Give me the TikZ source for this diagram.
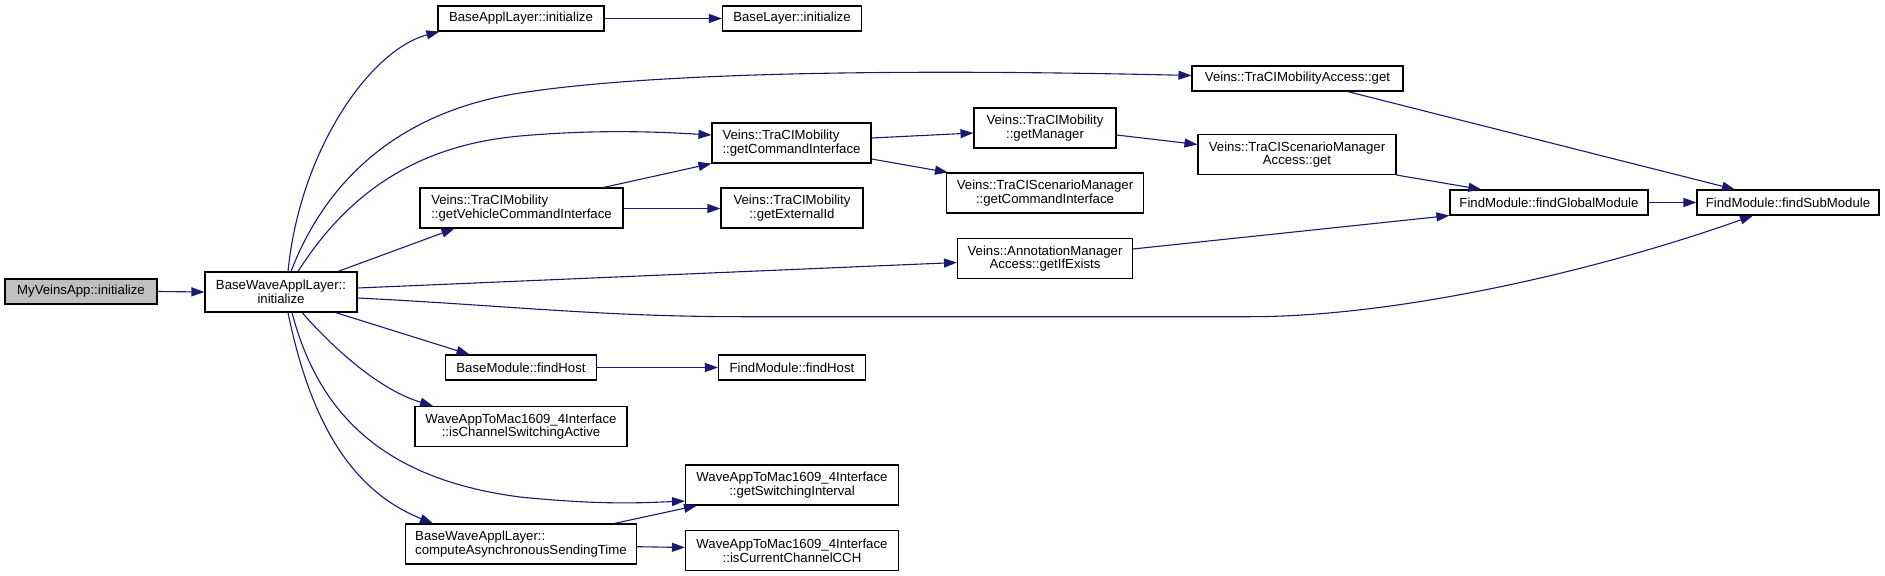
\documentclass[tikz,border=0pt]{standalone}
\usepackage{fontspec}
\setmainfont{Liberation Sans}
\usepackage{xcolor}
\usepackage{tikz}
\usetikzlibrary{positioning, arrows.meta, calc}
\definecolor{edgeblue}{HTML}{191970}
\definecolor{rootgray}{HTML}{BFBFBF}

\begin{document}
\begin{tikzpicture}[x=1bp, y=-1bp,
  fnbox/.style={draw=black, line width=1.1bp, inner sep=0pt, minimum height=25bp,
    font=\fontsize{13.2bp}{13.8bp}\selectfont, align=center},
  twoline/.style={minimum height=40bp},
  calledge/.style={draw=edgeblue, line width=1.1bp, -{Triangle[length=13bp,width=9bp]}}]
\useasboundingbox (0,0) rectangle (1885,576);

% functions
\node[fnbox, fill=rootgray, minimum width=152bp] (myapp) at (81,291.5) {MyVeinsApp::initialize};
\node[fnbox, twoline, minimum width=152bp] (bwal) at (281,292) {BaseWaveApplLayer::\\initialize};
\node[fnbox, minimum width=166bp] (bapl) at (521,18.5) {BaseApplLayer::initialize};
\node[fnbox, minimum width=139bp] (blay) at (792,18.5) {BaseLayer::initialize};
\node[fnbox, minimum width=211bp] (tmaget) at (1297.5,78.5) {Veins::TraCIMobilityAccess::get};
\node[fnbox, twoline, minimum width=159bp, align=left] (getcmd) at (791.5,143) {Veins::TraCIMobility\\::getCommandInterface};
\node[fnbox, twoline, minimum width=203bp, align=left] (getveh) at (521.5,208) {Veins::TraCIMobility\\::getVehicleCommandInterface};
\node[fnbox, twoline, minimum width=142bp] (getext) at (792,208) {Veins::TraCIMobility\\::getExternalId};
\node[fnbox, twoline, minimum width=142bp] (getmgr) at (1045,128) {Veins::TraCIMobility\\::getManager};
\node[fnbox, twoline, minimum width=197bp] (scmcmd) at (1045,193) {Veins::TraCIScenarioManager\\::getCommandInterface};
\node[fnbox, twoline, minimum width=175bp] (annot) at (1045,258.5) {Veins::AnnotationManager\\Access::getIfExists};
\node[fnbox, twoline, minimum width=198bp] (scmget) at (1297,154.5) {Veins::TraCIScenarioManager\\Access::get};
\node[fnbox, minimum width=198bp] (fgm) at (1549,202.5) {FindModule::findGlobalModule};
\node[fnbox, minimum width=182bp] (fsm) at (1788,202.5) {FindModule::findSubModule};
\node[fnbox, minimum width=151bp] (bmfh) at (521,367.5) {BaseModule::findHost};
\node[fnbox, minimum width=147bp] (fmfh) at (792,367.5) {FindModule::findHost};
\node[fnbox, twoline, minimum width=212bp] (ischsw) at (521,426.5) {WaveAppToMac1609\_4Interface\\::isChannelSwitchingActive};
\node[fnbox, twoline, minimum width=231bp, align=left] (casync) at (521,544) {BaseWaveApplLayer::\\computeAsynchronousSendingTime};
\node[fnbox, twoline, minimum width=213bp] (getsw) at (792,485) {WaveAppToMac1609\_4Interface\\::getSwitchingInterval};
\node[fnbox, twoline, minimum width=213bp] (iscch) at (792,550.5) {WaveAppToMac1609\_4Interface\\::isCurrentChannelCCH};

% calls
\draw[calledge] (myapp.east) -- (bwal.west);
\draw[calledge] ([xshift=7bp]bwal.north) .. controls (300,150) and (370,50) .. ([xshift=2bp]bapl.south west);
\draw[calledge] (bapl.east) -- (blay.west);
\draw[calledge] ([xshift=10bp]bwal.north) .. controls (330,170) and (410,110) .. (520,93)
  .. controls (685,67.5) and (1000,71) .. ([yshift=3bp]tmaget.west);
\draw[calledge] ([xshift=17bp]bwal.north) .. controls (350,190) and (420,145) .. (520,136)
  .. controls (600,129) and (660,132) .. ([yshift=8bp]getcmd.west);
\draw[calledge] ([xshift=57bp]bwal.north) -- ([xshift=-67bp]getveh.south);
\draw[calledge] ([xshift=82bp]getveh.north) -- (getcmd.south west);
\draw[calledge] ([yshift=-0.5bp]getveh.east) -- ([yshift=-0.5bp]getext.west);
\draw[calledge] ([yshift=5bp]getcmd.east) -- ([yshift=-5bp]getmgr.west);
\draw[calledge] ([yshift=-16bp]getcmd.east) -- ([xshift=2bp]scmcmd.north west);
\draw[calledge] ([yshift=-7bp]getmgr.east) -- ([yshift=10bp]scmget.west);
\draw[calledge] (scmget.south east) -- ([xshift=32bp]fgm.north west);
\draw[calledge] ([xshift=50bp]tmaget.south) -- ([xshift=-53bp]fsm.north);
\draw[calledge] (fgm.east) -- (fsm.west);
\draw[calledge] ([yshift=9.5bp]annot.east) -- (fgm.south west);
\draw[calledge] ([yshift=4bp]bwal.east) -- ([yshift=-4bp]annot.west);
\draw[calledge] ([yshift=-6bp]bwal.east) .. controls (500,305) and (600,316.7) .. (742,316.7)
  -- (1250,316.7) .. controls (1400,316.7) and (1600,270) .. ([xshift=-35bp]fsm.south);
\draw[calledge] ([xshift=54.5bp]bwal.south) -- ([xshift=-51.5bp]bmfh.north);
\draw[calledge] (bmfh.east) -- (fmfh.west);
\draw[calledge] ([xshift=21bp]bwal.south) .. controls (335,350) and (380,390) .. ([xshift=-88bp]ischsw.north);
\draw[calledge] ([xshift=11bp]bwal.south) .. controls (320,420) and (390,480) .. (520,497)
  .. controls (600,505) and (640,503) .. ([yshift=-16bp]getsw.west);
\draw[calledge] ([xshift=7bp]bwal.south) .. controls (310,420) and (350,490) .. ([xshift=-88bp]casync.north);
\draw[calledge] ([xshift=-22.7bp]casync.north east) -- ([xshift=12bp]getsw.south west);
\draw[calledge] ([yshift=-2.7bp]casync.east) -- ([yshift=3bp]iscch.west);
\end{tikzpicture}
\end{document}
